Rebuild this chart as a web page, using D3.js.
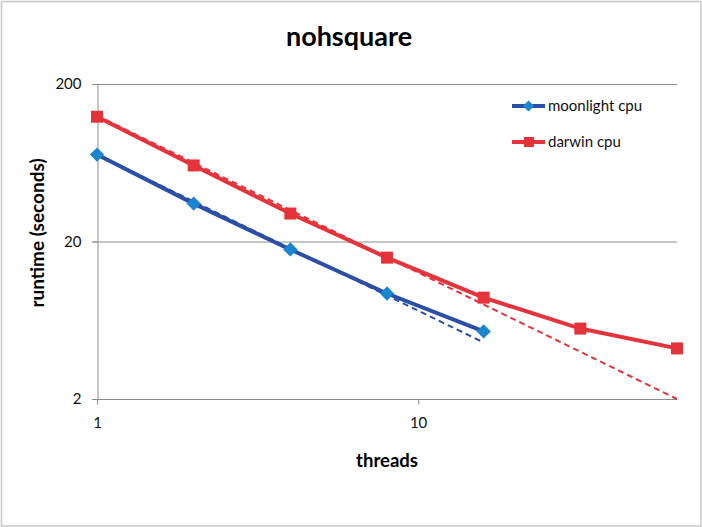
<!DOCTYPE html>
<html>
<head>
<meta charset="utf-8">
<script src="https://cdn.jsdelivr.net/npm/d3@7"></script>
<style>
  body { margin: 0; background: #fff; }
  text { font-family: Lato, "Open Sans", sans-serif; }
</style>
</head>
<body>
<script>
const WIDTH = 702;
const HEIGHT = 527;

// data
const threads = [1, 2, 4, 8, 16, 32, 64];
const moonlight = [71.3, 34.8, 17.8, 9.35, 5.37];
const darwin = [124, 60.8, 30.1, 15.8, 8.8, 5.6, 4.19];
// dashed "ideal" lines, endpoints
const moonlightIdealX = [1, 16];
const moonlightIdeal = [71.3, 4.57];
const darwinIdealX = [1, 64];
const darwinIdeal = [126, 2.0];
const yTicks = [2, 20, 200];
const xTicks = [1, 10];

const BLUE = '#2b4fa6';
const BLUE_MARK = '#1a86cf';
const RED = '#e5333b';

const svg = d3.select('body').append('svg')
    .attr('width', WIDTH)
    .attr('height', HEIGHT);

// outer frame
svg.append('rect')
    .attr('x', 1.5).attr('y', 1.5)
    .attr('width', WIDTH - 2.5).attr('height', HEIGHT - 2.5)
    .attr('fill', 'white')
    .attr('stroke', '#c8c8c8')
    .attr('stroke-width', 1.5);

const x = d3.scaleLog().domain([1, 64]).range([97, 677]);
const y = d3.scaleLog().domain([2, 200]).range([399, 84]);

// gridlines
svg.append('g').selectAll('line')
    .data(yTicks)
    .join('line')
    .attr('x1', x(1) - 5).attr('x2', x(64))
    .attr('y1', d => y(d) + 0.5).attr('y2', d => y(d) + 0.5)
    .attr('stroke', '#8c8c8c')
    .attr('stroke-width', 1);

// y axis
const yAxis = svg.append('g')
    .attr('transform', `translate(${x(1) + 0.5},0)`)
    .call(d3.axisLeft(y).tickValues(yTicks).tickFormat(d3.format('d')).tickSize(5).tickPadding(11));
yAxis.select('.domain').attr('stroke', '#8c8c8c');
yAxis.selectAll('.tick line').attr('stroke', '#8c8c8c');
yAxis.selectAll('text').attr('font-size', 15).attr('fill', '#111');

// x axis
const xAxis = svg.append('g')
    .attr('transform', `translate(0,${y(2) + 0.5})`)
    .call(d3.axisBottom(x).tickValues(xTicks).tickFormat(d3.format('d')).tickSize(5).tickPadding(13));
xAxis.select('.domain').remove();
xAxis.selectAll('.tick line').attr('stroke', '#8c8c8c');
xAxis.selectAll('text').attr('font-size', 15).attr('fill', '#111');

// titles
svg.append('text')
    .attr('x', 349).attr('y', 46)
    .attr('text-anchor', 'middle')
    .attr('font-size', 27).attr('font-weight', 'bold')
    .text('nohsquare');

svg.append('text')
    .attr('x', 387).attr('y', 467)
    .attr('text-anchor', 'middle')
    .attr('font-size', 18.5).attr('font-weight', 'bold')
    .text('threads');

svg.append('text')
    .attr('transform', `translate(44,233) rotate(-90)`)
    .attr('text-anchor', 'middle')
    .attr('font-size', 19).attr('font-weight', 'bold')
    .text('runtime (seconds)');

const line = d3.line().x(d => x(d[0])).y(d => y(d[1]));

// dashed ideal lines
svg.append('path')
    .attr('d', line(d3.zip(moonlightIdealX, moonlightIdeal)))
    .attr('fill', 'none').attr('stroke', BLUE)
    .attr('stroke-width', 2).attr('stroke-dasharray', '6,4');
svg.append('path')
    .attr('d', line(d3.zip(darwinIdealX, darwinIdeal)))
    .attr('fill', 'none').attr('stroke', RED)
    .attr('stroke-width', 2).attr('stroke-dasharray', '6,4');

// series lines
const moonPts = d3.zip(threads.slice(0, moonlight.length), moonlight);
const darPts = d3.zip(threads, darwin);

svg.append('path')
    .attr('d', line(moonPts))
    .attr('fill', 'none').attr('stroke', BLUE).attr('stroke-width', 4);
svg.append('path')
    .attr('d', line(darPts))
    .attr('fill', 'none').attr('stroke', RED).attr('stroke-width', 4);

const diamond = d3.symbol().type(d3.symbolDiamond2).size(130);
svg.append('g').selectAll('path')
    .data(moonPts)
    .join('path')
    .attr('transform', d => `translate(${x(d[0])},${y(d[1])})`)
    .attr('d', diamond)
    .attr('fill', BLUE_MARK);

svg.append('g').selectAll('rect')
    .data(darPts)
    .join('rect')
    .attr('x', d => x(d[0]) - 6).attr('y', d => y(d[1]) - 6)
    .attr('width', 12).attr('height', 12)
    .attr('fill', RED);

// legend
const legend = svg.append('g').attr('transform', 'translate(512,0)');
const items = [
    { name: 'moonlight cpu', color: BLUE, mark: 'diamond', y: 106 },
    { name: 'darwin cpu', color: RED, mark: 'square', y: 142 }
];
items.forEach(it => {
    legend.append('line')
        .attr('x1', 0).attr('x2', 33)
        .attr('y1', it.y).attr('y2', it.y)
        .attr('stroke', it.color).attr('stroke-width', 4);
    if (it.mark === 'diamond') {
        legend.append('path')
            .attr('transform', `translate(16.5,${it.y})`)
            .attr('d', d3.symbol().type(d3.symbolDiamond2).size(80))
            .attr('fill', BLUE_MARK);
    } else {
        legend.append('rect')
            .attr('x', 12).attr('y', it.y - 5)
            .attr('width', 10).attr('height', 10)
            .attr('fill', RED);
    }
    legend.append('text')
        .attr('x', 36).attr('y', it.y + 5)
        .attr('font-size', 15).attr('fill', '#111')
        .text(it.name);
});
</script>
</body>
</html>
